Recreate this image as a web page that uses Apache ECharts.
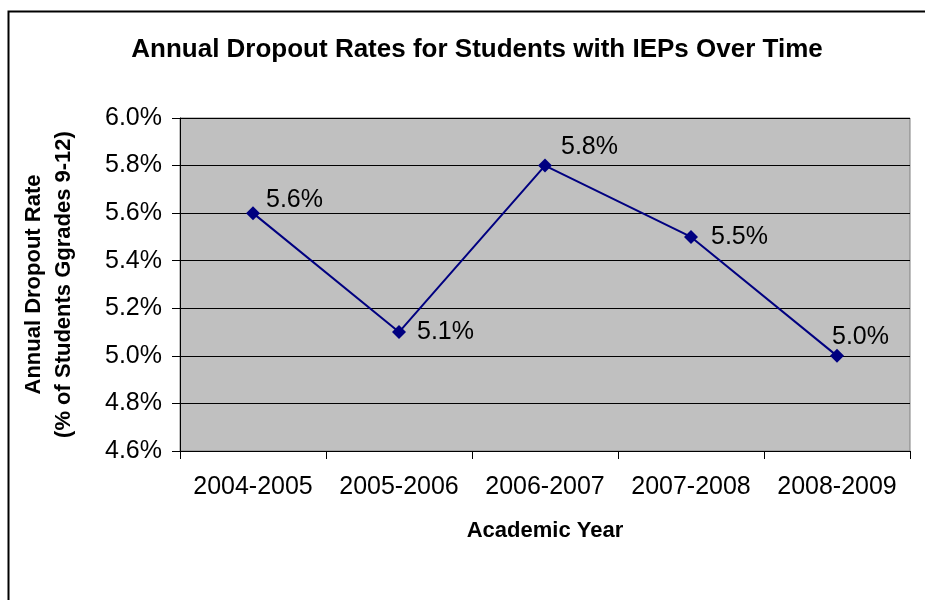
<!DOCTYPE html>
<html><head><meta charset="utf-8">
<script src="https://cdn.jsdelivr.net/npm/echarts@6/dist/echarts.min.js"></script>
<style>html,body{margin:0;padding:0;background:#fff}#c{width:925px;height:600px}</style>
</head><body><div id="c"></div>
<script>
var categories = ['2004-2005','2005-2006','2006-2007','2007-2008','2008-2009'];
var dropoutRates = [5.6, 5.1, 5.8, 5.5, 5.0];
var yTickMin = 4.6, yTickMax = 6.0, yTickStep = 0.2;

var labelOffsets = [[1,-13],[6,0],[4,-18],[8,0],[-17,-19]];
var chart = echarts.init(document.getElementById('c'), null, {renderer:'canvas'});
var font = '"Liberation Sans", Arial, sans-serif';
chart.setOption({
  animation:false,
  backgroundColor:'#fff',
  graphic:[{type:'polyline',shape:{points:[[8.5,700],[8.5,11.5],[1000,11.5]]},style:{stroke:'#000',lineWidth:2,fill:null},silent:true}],
  title:{text:'Annual Dropout Rates for Students with IEPs Over Time',left:472,top:32,textAlign:'center',
    textStyle:{fontFamily:font,fontWeight:'bold',fontSize:26,color:'#000'}},
  grid:{left:180,right:15,top:118,bottom:149,show:true,backgroundColor:'#C0C0C0',borderColor:'#808080',borderWidth:1},
  xAxis:{type:'category',data:categories,boundaryGap:true,
    axisLine:{lineStyle:{color:'#000',width:1}},
    axisTick:{show:true,length:8,interval:0,lineStyle:{color:'#000'}},
    axisLabel:{fontFamily:font,fontSize:25,color:'#000',margin:24,interval:0,hideOverlap:false},
    name:'Academic Year',nameLocation:'middle',nameGap:69,
    nameTextStyle:{fontFamily:font,fontWeight:'bold',fontSize:22,color:'#000'}},
  yAxis:{type:'value',min:yTickMin,max:yTickMax,interval:yTickStep,
    axisLine:{show:true,lineStyle:{color:'#000',width:1}},
    axisTick:{show:true,length:8,lineStyle:{color:'#000'}},
    splitLine:{show:true,lineStyle:{color:'#000',width:1}},
    axisLabel:{fontFamily:font,fontSize:25,color:'#000',margin:18,formatter:function(v){return v.toFixed(1)+'%';}},
    name:'Annual Dropout Rate\n(% of Students Ggrades 9-12)',nameLocation:'middle',nameRotate:90,nameGap:101,
    nameTextStyle:{fontFamily:font,fontWeight:'bold',fontSize:22,color:'#000',lineHeight:30}},
  series:[{type:'line',data:dropoutRates.map(function(v,i){
      return {value:v,label:{offset:labelOffsets[i]}};}),
    symbol:'diamond',symbolSize:14,
    lineStyle:{color:'#000080',width:2},itemStyle:{color:'#000080'},
    label:{show:true,position:'right',distance:5,fontFamily:font,fontSize:25,color:'#000',
      formatter:function(p){return p.value.toFixed(1)+'%';}}}]
});
</script></body></html>
